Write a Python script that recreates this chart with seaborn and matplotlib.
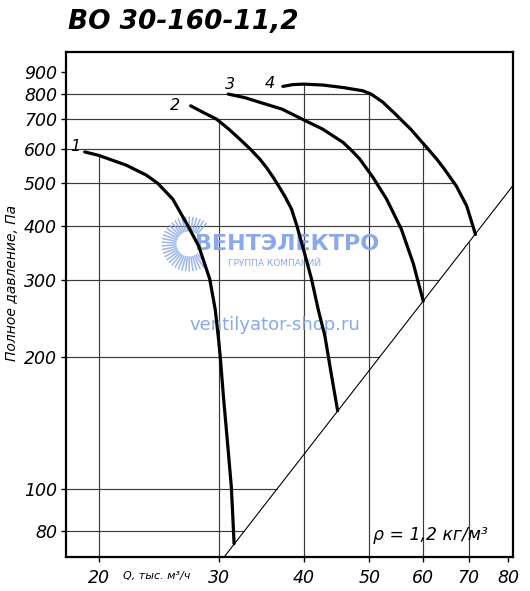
import numpy as np
import pandas as pd
import matplotlib
matplotlib.use("Agg")
import matplotlib.pyplot as plt
from matplotlib.lines import Line2D
from matplotlib import font_manager as fm
import seaborn as sns

# ---------------- data ----------------
title = "ВО 30-160-11,2"
curve_names = ["1", "2", "3", "4"]

q1 = [19.07, 20.02, 21.96, 23.5, 24.42, 25.7, 27.04, 28.06, 29.12, 29.67, 30.0,
      30.18, 30.53, 30.95, 31.33, 31.48, 31.62]
p1 = [590, 579, 550, 522, 500, 460, 400, 359, 302, 257, 220,
      200, 160, 126, 101, 87, 75]

q2 = [27.3, 28.5, 29.8, 31.0, 32.24, 33.36, 34.5, 35.3, 36.1, 36.8, 37.55, 38.4,
      39.05, 40.0, 41.1, 42.05, 43.0, 44.0, 44.9]
p2 = [752, 726, 701, 667, 631, 600, 568, 543, 516, 492, 467, 437,
      403, 353, 302, 257, 224, 181, 151]

q3 = [31.0, 32.8, 34.5, 37.2, 39.9, 42.7, 45.75, 47.1, 48.4, 50.6, 53.0, 55.7, 58.0, 60.0]
p3 = [800, 785, 766, 739, 700, 665, 620, 594, 568, 516, 460, 393, 328, 269]

q4 = [37.3, 38.6, 40.0, 42.7, 45.75, 48.9, 50.3, 52.3, 54.5, 57.5, 60.7, 62.8,
      64.5, 67.1, 69.5, 71.6]
p4 = [833, 841, 843, 839, 828, 814, 800, 767, 722, 665, 604, 568,
      538, 493, 444, 382]

system_q = [30.6, 81.2]
system_p = [70, 493]

x_ticks = [20, 30, 40, 50, 60, 70, 80]
y_ticks = [80, 100, 200, 300, 400, 500, 600, 700, 800, 900]
x_grid = [20, 30, 40, 50, 60, 70]
x_grid_from_system = [70]
y_grid = [80, 100, 200, 300, 400, 500, 600, 700, 800]

x_label = "Q, тыс. м³/ч"
y_label = "Полное давление, Па"
density_note = "ρ = 1,2 кг/м³"
brand = "ВЕНТЭЛЕКТРО"
brand_sub = "ГРУППА КОМПАНИЙ"
site = "ventilyator-shop.ru"

curves = [(q1, p1), (q2, p2), (q3, p3), (q4, p4)]

# ---------------- style ----------------
sns.set_style("white")
plt.rcParams["font.family"] = ["DejaVu Sans"]
plt.rcParams["text.color"] = "black"


def _w(f):
    w = f.weight
    if isinstance(w, str):
        w = fm.weight_dict.get(w, 400)
    return int(w)


def find_face(families, bold, italic):
    for fam in families:
        for f in fm.fontManager.ttflist:
            if f.name != fam:
                continue
            is_it = f.style in ("italic", "oblique")
            is_bold = _w(f) >= 600
            if is_it == italic and is_bold == bold:
                return f.fname
    return None


obl_path = find_face(["DejaVu Sans", "Open Sans", "Noto Sans"], False, True)
bobl_path = find_face(["DejaVu Sans", "Open Sans", "Noto Sans", "Liberation Sans"], True, True)


def fprop(path, size, bold=False, italic=True):
    if path:
        return fm.FontProperties(fname=path, size=size)
    return fm.FontProperties(family="DejaVu Sans", size=size,
                             style="oblique" if italic else "normal",
                             weight="bold" if bold else "normal")


title_size = 19 if (bobl_path and "DejaVu" in bobl_path) else 22

W, H = 530, 591
fig = plt.figure(figsize=(W / 100, H / 100), dpi=100)
L, R, T, B = 66, 513, 51.7, 556.7
ax = fig.add_axes([L / W, (H - B) / H, (R - L) / W, (B - T) / H])
ax.set_xscale("log")
ax.set_yscale("log")
XMIN, XMAX, YMIN, YMAX = 17.9, 81.3, 70, 1000


def logi(x, xp, fp):
    return 10 ** np.interp(np.log10(x), np.log10(xp), np.log10(fp))


# grid clipped to the working area
grid_kw = dict(color="#3a3a3a", lw=0.85, zorder=1)
i4 = int(np.argmax(p4))
q4d, p4d = np.array(q4[i4:]), np.array(p4[i4:])
for y in y_grid:
    x_end = logi(y, system_p, system_q)
    if p4d.min() <= y <= p4d.max():
        x_end = min(x_end, logi(y, p4d[::-1], q4d[::-1]))
    ax.hlines(y, XMIN, x_end, **grid_kw)
for x in x_grid:
    if x in x_grid_from_system:
        y_top = logi(x, system_q, system_p)
    else:
        vals = [logi(x, q, p) for q, p in curves if min(q) <= x <= max(q)]
        y_top = max(vals)
    ax.vlines(x, YMIN, y_top, **grid_kw)

# system line
sys_df = pd.DataFrame({"Q": system_q, "P": system_p})
sns.lineplot(data=sys_df, x="Q", y="P", color="black", lw=0.8, ax=ax,
             estimator=None, sort=False, legend=False, zorder=2)

# fan curves
df = pd.concat([pd.DataFrame({"Q": q, "P": p, "curve": n})
                for (q, p), n in zip(curves, curve_names)], ignore_index=True)
sns.lineplot(data=df, x="Q", y="P", units="curve", estimator=None, sort=False,
             color="black", lw=2.3, ax=ax, legend=False, zorder=3)
for line in ax.lines:
    line.set_solid_capstyle("round")
    line.set_solid_joinstyle("round")

label_offsets = [(-7.0, 4.0), (-11, 0.5), (1.5, 7.0), (-9.5, 2.0)]
for (q, p), n, off in zip(curves, curve_names, label_offsets):
    ax.annotate(n, (q[0], p[0]), xytext=off, textcoords="offset points",
                ha="center", va="center", fontproperties=fprop(obl_path, 11.5),
                color="black")

ax.set_xlim(XMIN, XMAX)
ax.set_ylim(YMIN, YMAX)
ax.minorticks_off()
ax.set_xticks(x_ticks)
ax.set_yticks(y_ticks)
ax.minorticks_off()
ax.tick_params(axis="both", which="major", direction="out", length=3.5, width=1,
               color="black", bottom=True, left=True)
ax.tick_params(axis="x", pad=5)
ax.tick_params(axis="y", pad=3)
ax.set_xticklabels([str(v) for v in x_ticks], fontproperties=fprop(obl_path, 12.5),
                   color="black")
ax.set_yticklabels([str(v) for v in y_ticks], fontproperties=fprop(obl_path, 12.5),
                   color="black")
for s in ax.spines.values():
    s.set_linewidth(1.6)
    s.set_color("black")
ax.set_xlabel("")
ax.set_ylabel("")

# texts
fig.text(68 / W, 1 - 29 / H, title, fontproperties=fprop(bobl_path, title_size, bold=True),
         ha="left", va="baseline")
fig.text(12 / W, 1 - 283 / H, y_label, rotation=90, fontproperties=fprop(obl_path, 10),
         ha="center", va="center")
fig.text(123 / W, 1 - 576 / H, x_label, fontproperties=fprop(obl_path, 8),
         ha="left", va="center")
fig.text(488 / W, 1 - 535 / H, density_note, fontproperties=fprop(obl_path, 12.4),
         ha="right", va="center")

# watermark (above the grid, below the curves)
wm = "#8aa8ee"
cx, cy = 189, 244
for a in np.linspace(np.deg2rad(50), np.deg2rad(310), 34):
    r0, r1 = 13, 27
    xs = [(cx + r0 * np.cos(a)) / W, (cx + r1 * np.cos(a)) / W]
    ys = [1 - (cy - r0 * np.sin(a)) / H, 1 - (cy - r1 * np.sin(a)) / H]
    ax.add_line(Line2D(xs, ys, color=wm, lw=1.1, alpha=0.85,
                       transform=fig.transFigure, clip_on=False, zorder=1.5))
ax.text(287 / W, 1 - 244 / H, brand, fontsize=16, fontweight="bold", color=wm,
        ha="center", va="center", zorder=1.5, transform=fig.transFigure)
ax.text(275 / W, 1 - 263 / H, brand_sub, fontsize=6.5, color=wm,
        ha="center", va="center", zorder=1.5, transform=fig.transFigure)
ax.text(275 / W, 1 - 325 / H, site, fontsize=13, color=wm,
        ha="center", va="center", zorder=1.5, transform=fig.transFigure)

fig.savefig("out.png", dpi=100)
